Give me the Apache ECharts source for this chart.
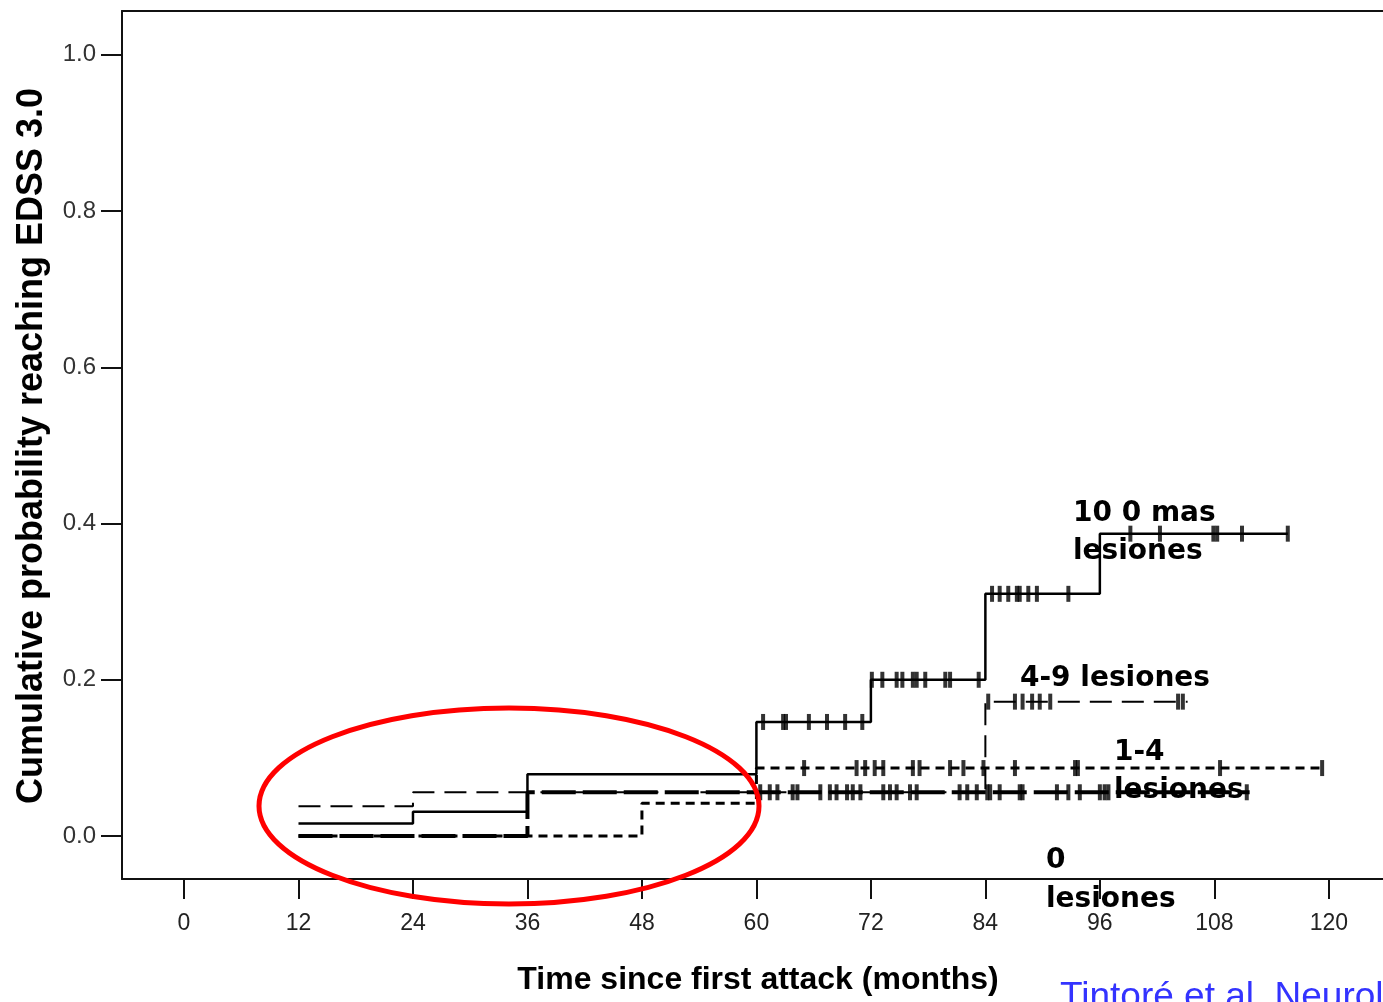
<!DOCTYPE html>
<html>
<head>
<meta charset="utf-8">
<script src="https://cdn.jsdelivr.net/npm/echarts@6/dist/echarts.min.js"></script>
<style>
html,body{margin:0;padding:0;background:#fff;}
#c{width:1383px;height:1002px;}
</style>
</head>
<body>
<div id="c"></div>
<script>
// ---- data ----
const xTicks = [0, 12, 24, 36, 48, 60, 72, 84, 96, 108, 120];
const yTicks = [0.0, 0.2, 0.4, 0.6, 0.8, 1.0];

// step curves [month, cumulative probability]
const steps10 = [[12, 0.016], [24, 0.031], [36, 0.079], [60, 0.146], [72, 0.200], [84, 0.310], [96, 0.387], [115.7, 0.387]];
const steps49 = [[12, 0.038], [24, 0.056], [84, 0.172], [105.2, 0.172]];
const steps14 = [[12, 0.000], [48, 0.042], [60, 0.087], [119.3, 0.087]];
const steps0  = [[12, 0.000], [36, 0.056], [111.7, 0.056]];

// censoring times (months)
const cens10 = [60.7, 62.8, 63.1, 65.5, 67.4, 69.3, 71.1, 72.1, 73.2, 74.7, 75.3, 76.4, 76.8, 77.7, 79.8, 80.3, 83.3, 84.7, 85.5, 86.4, 87.3, 87.6, 88.5, 89.4, 92.7, 99.2, 102.3, 107.9, 108.3, 110.9, 115.7];
const cens49 = [84.3, 87.1, 87.9, 88.9, 89.7, 90.8, 104.2, 104.7];
const cens14 = [65.0, 70.5, 71.4, 72.4, 73.3, 76.4, 77.1, 80.3, 81.7, 83.8, 87.1, 93.4, 93.7, 108.6, 119.3];
const cens0  = [60.4, 61.4, 62.2, 63.8, 64.3, 66.7, 67.7, 68.4, 69.5, 70.1, 70.9, 73.3, 74.0, 74.7, 76.1, 76.8, 81.3, 82.1, 83.1, 84.2, 84.5, 85.5, 87.6, 87.9, 91.5, 92.7, 93.9, 96.0, 96.5, 96.9, 111.4];

const labels = {
  s10: '10 0 mas\nlesiones',
  s49: '4-9 lesiones',
  s14: '1-4\nlesiones',
  s0: '0\nlesiones'
};
const xTitle = 'Time since first attack (months)';
const yTitle = 'Cumulative probability reaching EDSS 3.0';
const citation = 'Tintoré et al. Neurology';

// ---- helpers ----
function stepAt(steps, t) {
  let v = steps[0][1];
  for (const p of steps) { if (p[0] <= t) v = p[1]; }
  return v;
}
function censorPoints(steps, times) {
  return times.map(t => [t, stepAt(steps, t)]);
}

const chart = echarts.init(document.getElementById('c'), null, {renderer: 'canvas'});

function lineSeries(name, data, width, dash) {
  return {
    name: name, type: 'line', step: 'end', data: data,
    symbol: 'none', silent: true, animation: false,
    lineStyle: {color: '#000', width: width, type: dash}
  };
}
function censorSeries(name, data) {
  return {
    name: name, type: 'scatter', data: data, silent: true, animation: false,
    symbol: 'rect', symbolSize: [4, 16],
    itemStyle: {color: '#000'}
  };
}

const XMIN = -6.5, XMAX = 125.68;

const option = {
  backgroundColor: '#fff',
  animation: false,
  grid: {left: 122, top: 11, right: 0, bottom: 123, show: false},
  xAxis: [{
    type: 'value', min: XMIN, max: XMAX,
    axisLine: {show: true, onZero: false, lineStyle: {color: '#111', width: 2}},
    axisTick: {show: true, inside: false, length: 20, customValues: xTicks, lineStyle: {color: '#111', width: 2}},
    axisLabel: {show: true, customValues: xTicks, margin: 33, fontSize: 23, fontFamily: '"Liberation Sans", Arial, sans-serif', color: '#222'},
    splitLine: {show: false}
  }, {
    type: 'value', min: XMIN, max: XMAX, position: 'top',
    axisLine: {show: true, onZero: false, lineStyle: {color: '#111', width: 2}},
    axisTick: {show: false}, axisLabel: {show: false}, splitLine: {show: false}
  }],
  yAxis: {
    type: 'value', min: -0.055, max: 1.056,
    axisLine: {show: true, onZero: false, lineStyle: {color: '#111', width: 2}},
    axisTick: {show: true, inside: false, length: 21, customValues: yTicks, lineStyle: {color: '#111', width: 2}},
    axisLabel: {show: true, customValues: yTicks, margin: 26, fontSize: 24, fontFamily: '"Liberation Sans", Arial, sans-serif', color: '#333', formatter: v => v.toFixed(1)},
    splitLine: {show: false}
  },
  series: [
    lineSeries('0 lesiones', steps0, 4, [34, 7]),
    lineSeries('1-4 lesiones', steps14, 3, [9, 6]),
    lineSeries('4-9 lesiones', steps49, 2, [22, 10]),
    lineSeries('10 o mas lesiones', steps10, 2.5, 'solid'),
    censorSeries('c0', censorPoints(steps0, cens0)),
    censorSeries('c14', censorPoints(steps14, cens14)),
    censorSeries('c49', censorPoints(steps49, cens49)),
    censorSeries('c10', censorPoints(steps10, cens10))
  ],
  graphic: [
    {type: 'ellipse', shape: {cx: 509, cy: 806, rx: 250, ry: 98}, style: {fill: 'none', stroke: '#ff0000', lineWidth: 5}, z: 100, silent: true},
    {type: 'text', x: 1073, y: 533, style: {text: labels.s10, fontSize: 28, fontWeight: 'bold', fontFamily: '"DejaVu Sans", Verdana, sans-serif', fill: '#000', verticalAlign: 'middle', lineHeight: 38}, z: 110},
    {type: 'text', x: 1020, y: 679, style: {text: labels.s49, fontSize: 28, fontWeight: 'bold', fontFamily: '"DejaVu Sans", Verdana, sans-serif', fill: '#000', verticalAlign: 'middle'}, z: 110},
    {type: 'text', x: 1114, y: 772, style: {text: labels.s14, fontSize: 28, fontWeight: 'bold', fontFamily: '"DejaVu Sans", Verdana, sans-serif', fill: '#000', verticalAlign: 'middle', lineHeight: 38}, z: 110},
    {type: 'text', x: 1046, y: 880, style: {text: labels.s0, fontSize: 28, fontWeight: 'bold', fontFamily: '"DejaVu Sans", Verdana, sans-serif', fill: '#000', verticalAlign: 'middle', lineHeight: 39}, z: 110},
    {type: 'text', x: 758, y: 980, style: {text: xTitle, fontSize: 32, fontWeight: 'bold', fontFamily: '"Liberation Sans", Arial, sans-serif', fill: '#000', align: 'center', verticalAlign: 'middle'}, z: 110},
    {type: 'text', x: 32, y: 446, rotation: Math.PI / 2, style: {text: yTitle, fontSize: 36, fontWeight: 'bold', fontFamily: '"Liberation Sans", Arial, sans-serif', fill: '#000', align: 'center', verticalAlign: 'middle'}, z: 110},
    {type: 'text', x: 1060, y: 998, style: {text: citation, fontSize: 37, fontFamily: '"Liberation Sans", Arial, sans-serif', fill: '#3333ff', verticalAlign: 'middle'}, z: 110}
  ]
};
chart.setOption(option);
</script>
</body>
</html>
